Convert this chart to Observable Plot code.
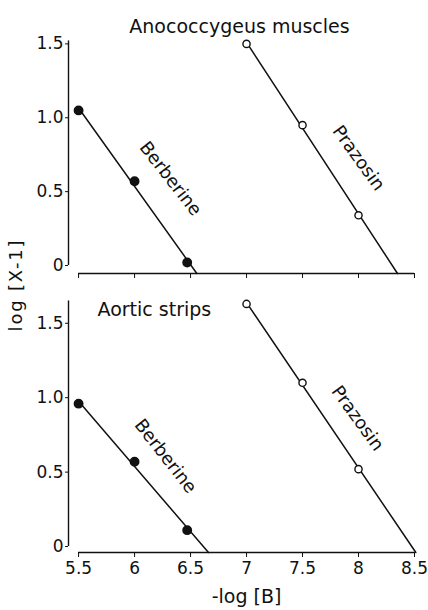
<!DOCTYPE html>
<html>
<head>
<meta charset="utf-8">
<script src="https://cdn.jsdelivr.net/npm/d3@7"></script>
<script src="https://cdn.jsdelivr.net/npm/@observablehq/plot@0.6"></script>
<style>
  html, body { margin: 0; padding: 0; background: #fff; }
  #wrap { position: relative; width: 428px; height: 610px; overflow: hidden; }
  #wrap svg { display: block; }
  #ylab {
    position: absolute; left: 15px; top: 285px;
    transform: translate(-50%, -50%) rotate(-90deg);
    font-family: "DejaVu Sans", sans-serif; font-size: 18px; letter-spacing: 1.8px;
    white-space: nowrap; color: #111; z-index: 2;
  }
</style>
</head>
<body>
<div id="wrap"><div id="ylab"></div></div>
<script>
// ---- data ----
const xTicks = [5.5, 6, 6.5, 7, 7.5, 8, 8.5];
const xTickLabels = ["5.5", "6", "6.5", "7", "7.5", "8", "8.5"];
const yTicks = [0, 0.5, 1.0, 1.5];
const yTickLabels = ["0", "0.5", "1.0", "1.5"];
const panelTitles = ["Anococcygeus muscles", "Aortic strips"];
const seriesNames = ["Berberine", "Prazosin"];
const xLabel = "-log [B]";
const yLabel = "log [X-1]";

const berberineX = [5.5, 6.0, 6.47];
const prazosinX = [7.0, 7.5, 8.0];
const anoBerberineY = [1.05, 0.57, 0.02];
const anoPrazosinY = [1.50, 0.95, 0.34];
const aorBerberineY = [0.96, 0.57, 0.11];
const aorPrazosinY = [1.63, 1.10, 0.52];

// ---- helpers ----
function fit(xs, ys) {
  const mx = d3.mean(xs), my = d3.mean(ys);
  const m = d3.sum(xs, (x, i) => (x - mx) * (ys[i] - my)) / d3.sum(xs, x => (x - mx) ** 2);
  const b = my - m * mx;
  return {m, b, mx, my};
}
function fitLine(xs, ys, yBase) {
  const {m, b} = fit(xs, ys);
  return [{x: xs[0], y: m * xs[0] + b}, {x: (yBase - b) / m, y: yBase}];
}
const pts = (xs, ys) => xs.map((x, i) => ({x, y: ys[i]}));

const font = "DejaVu Sans, sans-serif";
const xDomain = [5.41, 8.5];

function panel({bY, pY, yDomain, yAxisTop, height, marginTop, marginBottom, showXLabels, title, titleOpts, labelOffsets}) {
  const base = yDomain[0];
  const fb = fit(berberineX, bY), fp = fit(prazosinX, pY);
  const marks = [
    Plot.ruleX([xDomain[0]], {y1: 0, y2: yAxisTop, strokeWidth: 1.4}),
    Plot.ruleY([base], {x1: xTicks[0], x2: xTicks[xTicks.length - 1], strokeWidth: 1.4}),
    Plot.line(fitLine(berberineX, bY, base), {x: "x", y: "y", strokeWidth: 1.5}),
    Plot.line(fitLine(prazosinX, pY, base), {x: "x", y: "y", strokeWidth: 1.5}),
    Plot.dot(pts(berberineX, bY), {x: "x", y: "y", r: 4.2, fill: "#111", stroke: "#111"}),
    Plot.dot(pts(prazosinX, pY), {x: "x", y: "y", r: 3.6, fill: "white", stroke: "#111", strokeWidth: 1.4}),
    Plot.text([{x: fb.mx, y: fb.my}], {x: "x", y: "y", text: () => seriesNames[0], rotate: 52,
      dx: labelOffsets[0][0], dy: labelOffsets[0][1], fontSize: 18, letterSpacing: "1.5px", fontFamily: font, fill: "#111"}),
    Plot.text([{x: fp.mx, y: fp.my}], {x: "x", y: "y", text: () => seriesNames[1], rotate: 54,
      dx: labelOffsets[1][0], dy: labelOffsets[1][1], fontSize: 18, letterSpacing: "1.5px", fontFamily: font, fill: "#111"}),
    Plot.text([title], {text: d => d, fontSize: 19, fontFamily: font, fill: "#111", ...titleOpts})
  ];
  if (showXLabels) {
    marks.push(Plot.text([xLabel], {text: d => d, frameAnchor: "bottom", dx: 5, dy: 50,
      fontSize: 19, letterSpacing: "3px", fontFamily: font, fill: "#111"}));
  }
  return Plot.plot({
    width: 428, height, marginLeft: 68, marginRight: 14, marginTop, marginBottom,
    style: {fontFamily: font, fontSize: "17px", color: "#111", background: "white"},
    x: {domain: xDomain, ticks: xTicks, tickSize: 5, tickPadding: 4, label: null,
        tickFormat: showXLabels ? (d => xTickLabels[xTicks.indexOf(d)]) : (() => "")},
    y: {domain: yDomain, ticks: yTicks, tickSize: 3, tickPadding: 2, label: null,
        tickFormat: d => yTickLabels[yTicks.indexOf(d)]},
    marks
  });
}

const wrap = document.getElementById("wrap");
document.getElementById("ylab").textContent = yLabel;

wrap.appendChild(panel({
  bY: anoBerberineY, pY: anoPrazosinY, yDomain: [-0.054, 1.55], yAxisTop: 1.52,
  height: 285, marginTop: 36, marginBottom: 12, showXLabels: false,
  title: panelTitles[0],
  titleOpts: {frameAnchor: "top", dx: -2, dy: -17, letterSpacing: "1.5px"},
  labelOffsets: [[37, -6], [56, 30]]
}));
wrap.appendChild(panel({
  bY: aorBerberineY, pY: aorPrazosinY, yDomain: [-0.04, 1.7], yAxisTop: 1.65,
  height: 325, marginTop: 8, marginBottom: 58, showXLabels: true,
  title: panelTitles[1],
  titleOpts: {frameAnchor: "top-left", textAnchor: "start", dx: 29, dy: 9, letterSpacing: "2.2px"},
  labelOffsets: [[32, -9], [55, 33]]
}));
</script>
</body>
</html>
